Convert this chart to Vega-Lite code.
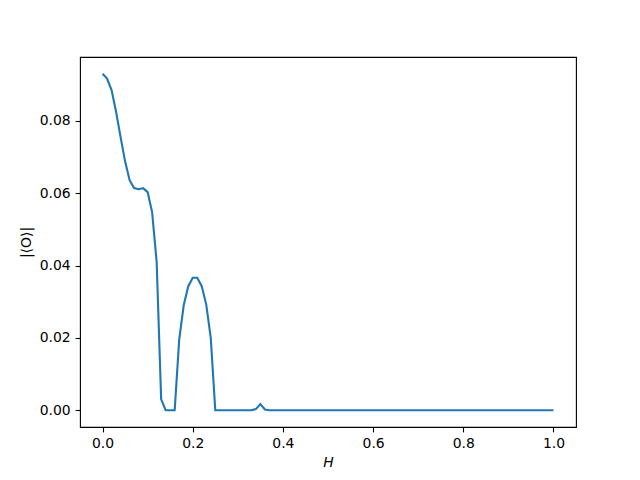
{
  "$schema": "https://vega.github.io/schema/vega-lite/v6.json",
  "autosize": "none",
  "width": 496,
  "height": 370,
  "padding": {"left": 80, "top": 57, "right": 64, "bottom": 53},
  "background": "white",
  "config": {
    "view": {"stroke": "black", "strokeWidth": 1.1},
    "axis": {
      "font": "DejaVu Sans",
      "labelFont": "DejaVu Sans",
      "titleFont": "DejaVu Sans",
      "labelFontSize": 13.9,
      "titleFontSize": 13.9,
      "titleFontWeight": "normal",
      "labelColor": "black",
      "titleColor": "black",
      "domain": false,
      "grid": false,
      "ticks": true,
      "tickColor": "black",
      "tickSize": 4.9,
      "tickWidth": 1.1,
      "labelPadding": 4.9,
      "labelFlush": false,
      "labelOverlap": false
    }
  },
  "data": {
    "values": [
      {"H": 0.00, "O": 0.0930},
      {"H": 0.01, "O": 0.0917},
      {"H": 0.02, "O": 0.0885},
      {"H": 0.03, "O": 0.0825},
      {"H": 0.04, "O": 0.0755},
      {"H": 0.05, "O": 0.0688},
      {"H": 0.06, "O": 0.0636},
      {"H": 0.07, "O": 0.0614},
      {"H": 0.08, "O": 0.0611},
      {"H": 0.09, "O": 0.0614},
      {"H": 0.10, "O": 0.0603},
      {"H": 0.11, "O": 0.0547},
      {"H": 0.12, "O": 0.0410},
      {"H": 0.13, "O": 0.0030},
      {"H": 0.14, "O": 0.0},
      {"H": 0.15, "O": 0.0},
      {"H": 0.16, "O": 0.0},
      {"H": 0.17, "O": 0.0195},
      {"H": 0.18, "O": 0.0290},
      {"H": 0.19, "O": 0.0342},
      {"H": 0.20, "O": 0.0366},
      {"H": 0.21, "O": 0.0366},
      {"H": 0.22, "O": 0.0343},
      {"H": 0.23, "O": 0.0292},
      {"H": 0.24, "O": 0.0200},
      {"H": 0.25, "O": 0.0},
      {"H": 0.26, "O": 0.0},
      {"H": 0.27, "O": 0.0},
      {"H": 0.28, "O": 0.0},
      {"H": 0.29, "O": 0.0},
      {"H": 0.30, "O": 0.0},
      {"H": 0.31, "O": 0.0},
      {"H": 0.32, "O": 0.0},
      {"H": 0.33, "O": 0.0},
      {"H": 0.34, "O": 0.0003},
      {"H": 0.35, "O": 0.0017},
      {"H": 0.36, "O": 0.0002},
      {"H": 0.37, "O": 0.0},
      {"H": 0.38, "O": 0.0},
      {"H": 0.39, "O": 0.0},
      {"H": 0.40, "O": 0.0},
      {"H": 0.45, "O": 0.0},
      {"H": 0.50, "O": 0.0},
      {"H": 0.55, "O": 0.0},
      {"H": 0.60, "O": 0.0},
      {"H": 0.65, "O": 0.0},
      {"H": 0.70, "O": 0.0},
      {"H": 0.75, "O": 0.0},
      {"H": 0.80, "O": 0.0},
      {"H": 0.85, "O": 0.0},
      {"H": 0.90, "O": 0.0},
      {"H": 0.95, "O": 0.0},
      {"H": 1.00, "O": 0.0}
    ]
  },
  "mark": {"type": "line", "color": "#1f77b4", "strokeWidth": 2.1, "clip": true},
  "encoding": {
    "x": {
      "field": "H",
      "type": "quantitative",
      "scale": {"domain": [-0.05, 1.05], "nice": false, "zero": false},
      "axis": {"values": [0, 0.2, 0.4, 0.6, 0.8, 1.0], "format": ".1f", "title": "H", "titleFontStyle": "italic", "titlePadding": 5}
    },
    "y": {
      "field": "O",
      "type": "quantitative",
      "scale": {"domain": [-0.00465, 0.09765], "nice": false, "zero": false},
      "axis": {"values": [0, 0.02, 0.04, 0.06, 0.08], "format": ".2f", "title": "|⟨O⟩|", "titlePadding": 6}
    }
  }
}
